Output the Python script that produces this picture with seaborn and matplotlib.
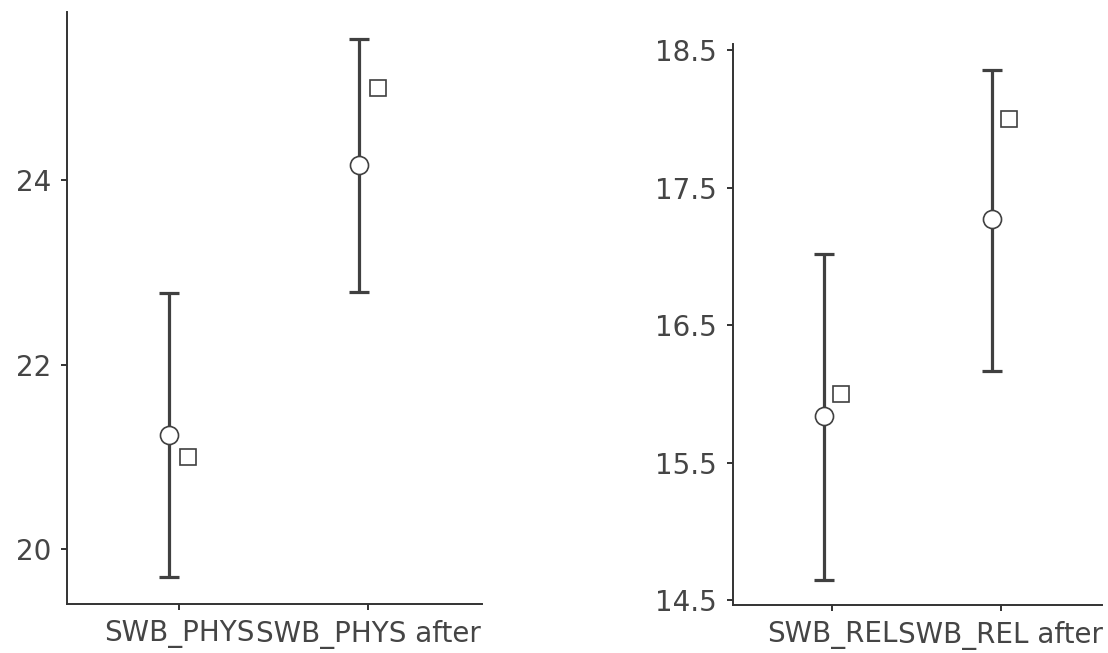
import pandas as pd
import numpy as np
import seaborn as sns
import matplotlib.pyplot as plt

# values: mean with interval, plus median
phys_vars = ['SWB_PHYS', 'SWB_PHYS after']
phys_mean = [21.24, 24.16]
phys_lo = [19.70, 22.79]
phys_hi = [22.78, 25.53]
phys_median = [21.0, 25.0]
phys_ticks = [20, 22, 24]

rel_vars = ['SWB_REL', 'SWB_REL after']
rel_mean = [15.84, 17.27]
rel_lo = [14.65, 16.17]
rel_hi = [17.02, 18.36]
rel_median = [16.0, 18.0]
rel_ticks = [14.5, 15.5, 16.5, 17.5, 18.5]

dark = '#404040'

sns.set_style('ticks', {'axes.edgecolor': '#333333', 'xtick.color': '#333333',
                        'ytick.color': '#333333', 'text.color': '#333333'})
plt.rcParams['font.family'] = ['DejaVu Sans']
plt.rcParams['axes.linewidth'] = 1.4
plt.rcParams['xtick.major.width'] = 1.4
plt.rcParams['ytick.major.width'] = 1.4
plt.rcParams['xtick.major.size'] = 4.5
plt.rcParams['ytick.major.size'] = 4.5
plt.rcParams['xtick.major.pad'] = 7
plt.rcParams['ytick.major.pad'] = 7
plt.rcParams['xtick.labelsize'] = 20
plt.rcParams['ytick.labelsize'] = 20
plt.rcParams['xtick.labelcolor'] = '#454545'
plt.rcParams['ytick.labelcolor'] = '#454545'


def draw(ax, names, mean, lo, hi, median, yticks):
    df = pd.DataFrame({
        'var': names * 2,
        'stat': ['mean'] * len(names) + ['median'] * len(names),
        'value': list(mean) + list(median),
    })
    sns.pointplot(data=df, x='var', y='value', hue='stat', hue_order=['mean', 'median'],
                  dodge=0.1, errorbar=None, markers=['o', 's'], linestyle='none',
                  palette=[dark, dark], markerfacecolor='white', markeredgecolor=dark,
                  markeredgewidth=1.2, markersize=13, legend=False, zorder=3, ax=ax)
    ax.lines[1].set_markersize(11)
    x = ax.lines[0].get_xdata()
    ax.errorbar(x, mean, yerr=[np.subtract(mean, lo), np.subtract(hi, mean)], fmt='none',
                ecolor=dark, elinewidth=2.3, capsize=7, capthick=2.3, zorder=1)
    ax.set_xlim(-0.59, 1.6)
    ax.set_yticks(yticks)
    ax.set_yticklabels([f'{t:g}' for t in yticks])
    ax.set_xlabel('')
    ax.set_ylabel('')
    sns.despine(ax=ax)


fig = plt.figure(figsize=(11.08, 6.53), dpi=100)
ax1 = fig.add_axes([0.0605, 0.075, 0.3745, 0.9066])
ax2 = fig.add_axes([0.6615, 0.0735, 0.333, 0.859])

draw(ax1, phys_vars, phys_mean, phys_lo, phys_hi, phys_median, phys_ticks)
draw(ax2, rel_vars, rel_mean, rel_lo, rel_hi, rel_median, rel_ticks)

fig.savefig('out.png', dpi=100)
